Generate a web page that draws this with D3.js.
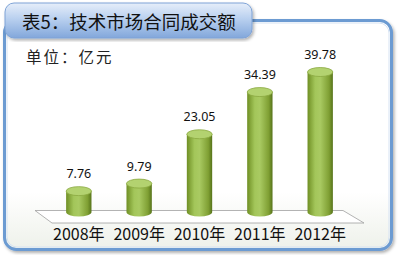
<!DOCTYPE html>
<html>
<head>
<meta charset="utf-8">
<script src="https://cdn.jsdelivr.net/npm/d3@7"></script>
<style>
  html, body { margin: 0; padding: 0; background: #fff; }
  svg { display: block; }
</style>
</head>
<body>
<div id="chart"></div>
<script>
// données
const years = ["2008年", "2009年", "2010年", "2011年", "2012年"];
const values = [7.76, 9.79, 23.05, 34.39, 39.78];
const valueLabels = ["7.76", "9.79", "23.05", "34.39", "39.78"];
const title = "表5：技术市场合同成交额";
const unitLabel = "单位：亿元";

const width = 400, height = 255;
const svg = d3.select("#chart").append("svg")
  .attr("width", width).attr("height", height);

const defs = svg.append("defs");

// dégradés
const bg = defs.append("linearGradient").attr("id", "bg")
  .attr("x1", 0).attr("y1", 0).attr("x2", 0).attr("y2", 1);
bg.append("stop").attr("offset", "0%").attr("stop-color", "#ffffff");
bg.append("stop").attr("offset", "75%").attr("stop-color", "#ffffff");
bg.append("stop").attr("offset", "100%").attr("stop-color", "#eef1ea");

const tab = defs.append("linearGradient").attr("id", "tab")
  .attr("x1", 0).attr("y1", 0).attr("x2", 0).attr("y2", 1);
tab.append("stop").attr("offset", "0%").attr("stop-color", "#e6eefa");
tab.append("stop").attr("offset", "45%").attr("stop-color", "#b9d0ef");
tab.append("stop").attr("offset", "100%").attr("stop-color", "#82a7db");

const cyl = defs.append("linearGradient").attr("id", "cyl")
  .attr("x1", 0).attr("y1", 0).attr("x2", 1).attr("y2", 0);
cyl.append("stop").attr("offset", "0%").attr("stop-color", "#6f8f24");
cyl.append("stop").attr("offset", "30%").attr("stop-color", "#a3c65a");
cyl.append("stop").attr("offset", "50%").attr("stop-color", "#a9ca62");
cyl.append("stop").attr("offset", "85%").attr("stop-color", "#7f9f33");
cyl.append("stop").attr("offset", "100%").attr("stop-color", "#56731a");

const shadow = defs.append("filter").attr("id", "shadow")
  .attr("x", "-5%").attr("y", "-5%").attr("width", "115%").attr("height", "115%");
shadow.append("feDropShadow").attr("dx", 1.5).attr("dy", 2).attr("stdDeviation", 1.5)
  .attr("flood-color", "#000").attr("flood-opacity", 0.3);

// cadre
svg.append("rect")
  .attr("x", 4.5).attr("y", 20.5).attr("width", 387).attr("height", 229)
  .attr("rx", 12)
  .attr("fill", "url(#bg)")
  .attr("stroke", "#6c9bd2").attr("stroke-width", 3)
  .attr("filter", "url(#shadow)");
svg.append("rect")
  .attr("x", 7).attr("y", 23).attr("width", 382).attr("height", 224)
  .attr("rx", 10)
  .attr("fill", "none")
  .attr("stroke", "#d6e3f3").attr("stroke-width", 1);

// onglet du titre
svg.append("rect")
  .attr("x", 5).attr("y", 3).attr("width", 247).attr("height", 35)
  .attr("rx", 9)
  .attr("fill", "url(#tab)")
  .attr("stroke", "#7ea3d6").attr("stroke-width", 1)
  .attr("filter", "url(#shadow)");

svg.append("text")
  .attr("x", 22).attr("y", 29)
  .attr("font-family", "'Noto Sans CJK SC', sans-serif")
  .attr("font-size", 18.5)
  .attr("fill", "#111")
  .text(title);

svg.append("text")
  .attr("x", 26).attr("y", 63)
  .attr("font-family", "'Noto Sans CJK SC', sans-serif")
  .attr("font-size", 15.5)
  .attr("letter-spacing", 2)
  .attr("fill", "#222")
  .text(unitLabel);

// échelles
const x = d3.scaleBand().domain(years).range([45, 354]).paddingInner(0.58).paddingOuter(0.35);
const y = d3.scaleLinear().domain([0, 40]).range([220, 71.2]);
const baseY = 212;
const rx = x.bandwidth() / 2;
const ry = 4.5;

// sol
svg.append("path")
  .attr("d", "M35,210.5 L343,210.5 L364,223 L52,223 Z")
  .attr("fill", "#ffffff")
  .attr("stroke", "#a0a0a0").attr("stroke-width", 0.8);

// cylindres
const g = svg.selectAll(".bar").data(years).join("g").attr("class", "bar");

g.append("path")
  .attr("d", (d, i) => {
    const cx = x(d) + rx, top = y(values[i]);
    return `M${cx - rx},${top} L${cx - rx},${baseY} A${rx},${ry} 0 0 0 ${cx + rx},${baseY} L${cx + rx},${top} Z`;
  })
  .attr("fill", "url(#cyl)");

g.append("ellipse")
  .attr("cx", d => x(d) + rx)
  .attr("cy", (d, i) => y(values[i]))
  .attr("rx", rx).attr("ry", ry)
  .attr("fill", "#b3d270")
  .attr("stroke", "#8aa840").attr("stroke-width", 0.8);

g.append("text")
  .attr("x", d => x(d) + rx)
  .attr("y", (d, i) => y(values[i]) - 13)
  .attr("text-anchor", "middle")
  .attr("font-family", "'Noto Sans', sans-serif")
  .attr("font-size", 12.5)
  .attr("fill", "#111")
  .text((d, i) => valueLabels[i]);

g.append("text")
  .attr("x", d => x(d) + rx)
  .attr("y", 240)
  .attr("text-anchor", "middle")
  .attr("font-family", "'Noto Sans CJK SC', sans-serif")
  .attr("font-size", 16)
  .attr("fill", "#111")
  .text(d => d);
</script>
</body>
</html>
